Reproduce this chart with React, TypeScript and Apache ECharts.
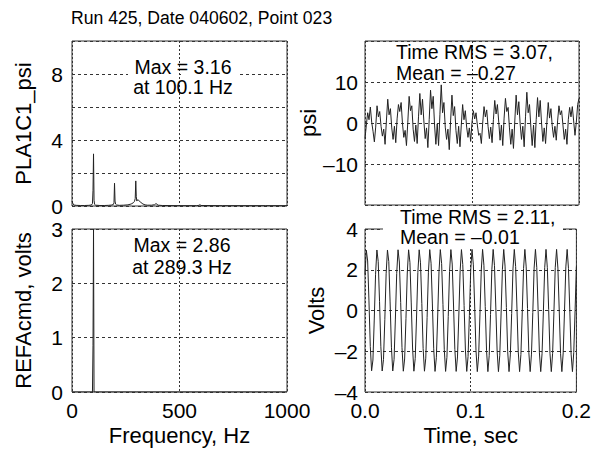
import React, { useEffect, useRef } from "react";
import * as echarts from "echarts";

const titleText = "Run 425, Date 040602, Point 023";

const specFreqTop = [0, 4.9, 9.8, 19.5, 39.1, 58.6, 78.1, 90.3, 95.2, 97.7,
  100.1, 102.5, 105, 110, 130, 150, 170, 185.5, 192.9, 195.3,
  197.8, 200.2, 202.6, 207.5, 220, 240, 260, 275, 285.6, 290.5,
  294.1, 296.6, 299, 301.5, 305.2, 310, 320, 330, 340, 350,
  370, 385, 390.6, 395.5, 400.4, 420, 500, 580, 590.3, 595.2,
  600, 700, 800, 900, 1000];
const specAmpTop = [0.3, 0.12, 0.06, 0.04, 0.03, 0.03, 0.04, 0.06, 0.15, 0.95,
  3.16, 0.35, 0.1, 0.05, 0.03, 0.03, 0.04, 0.06, 0.1, 0.2,
  1.38, 0.3, 0.12, 0.06, 0.04, 0.05, 0.07, 0.12, 0.2, 0.28,
  0.45, 1.52, 0.56, 0.3, 0.38, 0.34, 0.22, 0.12, 0.07, 0.05,
  0.05, 0.08, 0.15, 0.1, 0.05, 0.03, 0.02, 0.02, 0.04, 0.08,
  0.03, 0.02, 0.02, 0.02, 0.02];

const specFreqBottom = [0, 50, 95.2, 97.7, 100.1, 102.5, 200, 300, 500, 1000];
const specAmpBottom = [0, 0, 0, 0.86, 3.0, 0, 0, 0, 0, 0];

const timeStep = 0.00125;

const pressurePsi = [
  -3.8, -0.5, 2.5, 0.8, 3.9, 0.2, -2.0, -4.6,
  -1.0, 4.2, 1.5, 2.8, -0.8, -3.2, -1.5, -5.2,
  0.5, 5.8, 2.0, 3.5, -1.2, -4.0, -0.8, -4.8,
  1.0, 4.5, 2.8, 5.0, 0.0, -3.5, -1.8, -5.5,
  0.2, 6.5, 3.0, 4.2, -1.5, -4.5, -0.5, -5.0,
  1.5, 7.2, 2.0, 5.8, 0.5, -3.8, -1.2, -6.0,
  0.8, 8.0, 3.5, 6.5, -0.5, -5.2, -0.2, -5.5,
  2.0, 9.3, 2.5, 5.0, -1.0, -4.0, -1.5, -6.5,
  0.5, 6.8, 1.8, 4.0, -1.8, -5.0, -0.8, -5.8,
  -0.5, 4.5, 0.8, 3.0, -1.0, -3.5, -1.2, -4.5,
  0.2, 3.0, 1.0, 2.5, -0.5, -3.0, -2.5, -5.0,
  0.0, 4.0, 1.5, 3.2, -0.8, -3.8, -1.0, -4.8,
  0.8, 5.5, 2.2, 4.5, 0.2, -4.2, -0.5, -5.5,
  1.2, 6.0, 2.8, 3.8, -1.2, -5.2, -1.5, -6.2,
  0.5, 6.8, 2.0, 5.2, -0.2, -4.0, -0.8, -5.8,
  1.5, 7.5, 2.5, 4.5, -1.0, -5.5, -0.5, -6.0,
  0.8, 6.2, 1.5, 5.5, 0.0, -4.5, -1.2, -5.0,
  0.2, 5.0, 1.2, 3.5, -0.8, -3.5, -0.8, -4.2,
  0.5, 4.2, 2.0, 3.0, -0.5, -4.0, -1.5, -5.2,
  0.8, 3.8, 1.5, 4.0, 0.5, -3.0, 0.2, 4.5,
  6.0,
];

const refVolts = [
  1.76, 2.96, 2.43, 0.47, -1.76, -2.96, -2.43, -0.47,
  1.78, 2.97, 2.41, 0.45, -1.78, -2.97, -2.41, -0.45,
  1.80, 2.97, 2.40, 0.42, -1.80, -2.97, -2.40, -0.42,
  1.82, 2.98, 2.38, 0.40, -1.82, -2.98, -2.38, -0.40,
  1.84, 2.98, 2.36, 0.37, -1.84, -2.98, -2.36, -0.37,
  1.86, 2.98, 2.34, 0.35, -1.86, -2.98, -2.34, -0.35,
  1.88, 2.99, 2.32, 0.32, -1.88, -2.99, -2.32, -0.32,
  1.90, 2.99, 2.30, 0.30, -1.90, -2.99, -2.30, -0.30,
  1.92, 2.99, 2.28, 0.27, -1.92, -2.99, -2.28, -0.27,
  1.94, 2.99, 2.26, 0.25, -1.94, -2.99, -2.26, -0.25,
  1.96, 3.00, 2.24, 0.22, -1.96, -3.00, -2.24, -0.22,
  1.98, 3.00, 2.22, 0.20, -1.98, -3.00, -2.22, -0.20,
  2.00, 3.00, 2.20, 0.17, -2.00, -3.00, -2.20, -0.17,
  2.02, 3.00, 2.18, 0.15, -2.02, -3.00, -2.18, -0.15,
  2.04, 3.00, 2.16, 0.12, -2.04, -3.00, -2.16, -0.12,
  2.06, 3.00, 2.14, 0.10, -2.06, -3.00, -2.14, -0.10,
  2.08, 3.00, 2.12, 0.07, -2.08, -3.00, -2.12, -0.07,
  2.10, 3.00, 2.10, 0.05, -2.10, -3.00, -2.10, -0.05,
  2.12, 3.00, 2.08, 0.02, -2.12, -3.00, -2.08, -0.02,
  2.14, 3.00, 2.06, 0.00, -2.14, -3.00, -2.06, 0.00,
  2.16,
];

const FONT = "Liberation Sans, Arial, Helvetica, sans-serif";
const dash = (v: number) => (v < 0 ? "\u2013" + Math.abs(v) : String(v));

export default function App() {
  const ref = useRef<HTMLDivElement>(null);
  useEffect(() => {
    document.body.style.margin = "0";
    const chart = echarts.init(ref.current!, undefined, { renderer: "svg" });
    const gridBase = { show: true, borderColor: "#333", borderWidth: 1, backgroundColor: "transparent" };
    const splitH = { show: true, lineStyle: { color: "#333", type: [3, 3] as any, width: 1 } };
    const splitV = { show: true, lineStyle: { color: "#333", type: [2, 2] as any, width: 1 } };
    const lbl = { color: "#000", fontSize: 21, fontFamily: FONT };
    const nameStyle = { color: "#000", fontSize: 22, fontFamily: FONT };
    const baseAxis = { axisLine: { show: false }, axisTick: { show: false } };
    const lineStyle = { color: "#222", width: 1 };
    const textStyle = (text: string, x: number, y: number, align: string) => ({
      type: "text",
      x, y, z: 101,
      style: { text, fill: "#000", font: `19.5px ${FONT}`, textAlign: align, textVerticalAlign: "middle" },
    });
    const option: any = {
      animation: false,
      backgroundColor: "#fff",
      grid: [
        { ...gridBase, left: 72, top: 41, width: 215, height: 165 },
        { ...gridBase, left: 72, top: 229, width: 215, height: 163 },
        { ...gridBase, left: 365, top: 41, width: 214, height: 164 },
        { ...gridBase, left: 365, top: 229, width: 214, height: 163 },
      ],
      xAxis: [
        { ...baseAxis, type: "value", gridIndex: 0, min: 0, max: 1000, interval: 500, axisLabel: { show: false }, splitLine: splitV },
        { ...baseAxis, type: "value", gridIndex: 1, min: 0, max: 1000, interval: 500,
          axisLabel: { ...lbl, margin: 8, formatter: (v: number) => String(v) }, splitLine: splitV,
          name: "Frequency, Hz", nameLocation: "middle", nameGap: 32, nameTextStyle: nameStyle },
        { ...baseAxis, type: "value", gridIndex: 2, min: 0, max: 0.2, interval: 0.1, axisLabel: { show: false }, splitLine: splitV },
        { ...baseAxis, type: "value", gridIndex: 3, min: 0, max: 0.2, interval: 0.1,
          axisLabel: { ...lbl, margin: 8, formatter: (v: number) => v.toFixed(1) }, splitLine: splitV,
          name: "Time, sec", nameLocation: "middle", nameGap: 32, nameTextStyle: nameStyle },
      ],
      yAxis: [
        { ...baseAxis, type: "value", gridIndex: 0, min: 0, max: 10, interval: 2, splitLine: splitH,
          axisLabel: { ...lbl, margin: 9, formatter: (v: number) => (v % 4 === 0 && v < 10 ? String(v) : "") },
          name: "PLA1C1_psi", nameLocation: "middle", nameGap: 38, nameTextStyle: nameStyle },
        { ...baseAxis, type: "value", gridIndex: 1, min: 0, max: 3, interval: 1, splitLine: splitH,
          axisLabel: { ...lbl, margin: 9 },
          name: "REFAcmd, volts", nameLocation: "middle", nameGap: 38, nameTextStyle: nameStyle },
        { ...baseAxis, type: "value", gridIndex: 2, min: -20, max: 20, interval: 10, splitLine: splitH,
          axisLabel: { ...lbl, margin: 7, formatter: (v: number) => (Math.abs(v) === 20 ? "" : dash(v)) },
          name: "psi", nameLocation: "middle", nameGap: 38, nameTextStyle: nameStyle },
        { ...baseAxis, type: "value", gridIndex: 3, min: -4, max: 4, interval: 2, splitLine: splitH,
          axisLabel: { ...lbl, margin: 7, formatter: (v: number) => dash(v) },
          name: "Volts", nameLocation: "middle", nameGap: 38, nameTextStyle: nameStyle },
      ],
      series: [
        { type: "line", xAxisIndex: 0, yAxisIndex: 0, showSymbol: false, lineStyle, clip: true,
          data: specFreqTop.map((f, i) => [f, specAmpTop[i]]) },
        { type: "line", xAxisIndex: 1, yAxisIndex: 1, showSymbol: false, lineStyle, clip: true,
          data: specFreqBottom.map((f, i) => [f, specAmpBottom[i]]) },
        { type: "line", xAxisIndex: 2, yAxisIndex: 2, showSymbol: false, lineStyle, clip: true,
          data: pressurePsi.map((v, i) => [i * timeStep, v]) },
        { type: "line", xAxisIndex: 3, yAxisIndex: 3, showSymbol: false, lineStyle, clip: true,
          data: refVolts.map((v, i) => [i * timeStep, v]) },
      ],
      graphic: [
        { type: "text", x: 71, y: 18, z: 101,
          style: { text: titleText, fill: "#000", font: `17.6px ${FONT}`, textAlign: "left", textVerticalAlign: "middle" } },
        { type: "rect", z: 100, shape: { x: 128, y: 60, width: 50, height: 36 }, style: { fill: "#fff" } },
        { type: "rect", z: 100, shape: { x: 181, y: 60, width: 59, height: 36 }, style: { fill: "#fff" } },
        { type: "rect", z: 100, shape: { x: 383, y: 207, width: 180, height: 40 }, style: { fill: "#fff" } },
        textStyle("Max = 3.16", 183, 67, "center"),
        textStyle("at 100.1 Hz", 183, 87, "center"),
        textStyle("Max = 2.86", 182, 245, "center"),
        textStyle("at 289.3 Hz", 182, 267, "center"),
        textStyle("Time RMS = 3.07,", 396, 52, "left"),
        textStyle("Mean = \u20130.27", 396, 73, "left"),
        textStyle("Time RMS = 2.11,", 400, 217, "left"),
        textStyle("Mean = \u20130.01", 400, 237, "left"),
      ],
    };
    chart.setOption(option);
    return () => chart.dispose();
  }, []);
  return <div ref={ref} style={{ width: 594, height: 452 }} />;
}
